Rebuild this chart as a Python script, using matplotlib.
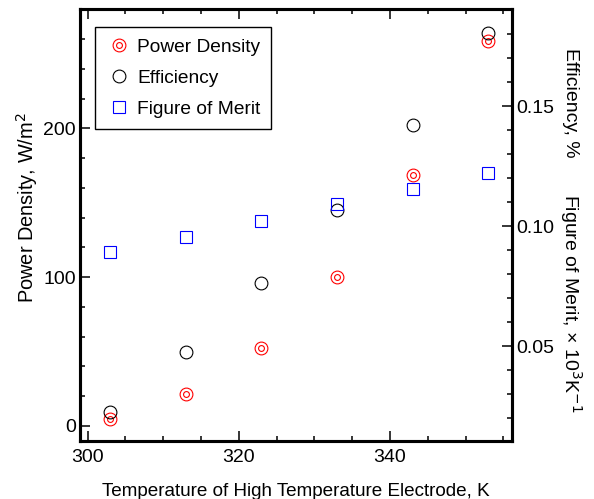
import matplotlib
matplotlib.use("Agg")
import matplotlib.pyplot as plt
from matplotlib.ticker import MultipleLocator, FormatStrFormatter
from matplotlib.legend_handler import HandlerTuple

plt.rcParams['font.family'] = ['Liberation Sans', 'DejaVu Sans']

temperature = [303, 313, 323, 333, 343, 353]
power_density = [4.7, 21.5, 52.2, 100.4, 168.5, 258.9]
efficiency = [0.0228, 0.0477, 0.0765, 0.107, 0.142, 0.1804]
figure_of_merit = [0.0891, 0.0957, 0.1022, 0.1093, 0.1156, 0.1222]

fig = plt.figure(figsize=(5.94, 4.99), dpi=100)
ax = fig.add_axes([0.1347, 0.1162, 0.8614 - 0.1347, 0.982 - 0.1162])
ax2 = ax.twinx()

ms_out, ms_in, mew = 9.2, 4.2, 0.8
p1, = ax.plot(temperature, power_density, ls='none', marker='o', ms=ms_out,
              mfc='none', mec='red', mew=mew)
p1b, = ax.plot(temperature, power_density, ls='none', marker='o', ms=ms_in,
               mfc='none', mec='red', mew=mew)
p2, = ax2.plot(temperature, efficiency, ls='none', marker='o', ms=ms_out,
               mfc='none', mec='black', mew=mew)
p3, = ax2.plot(temperature, figure_of_merit, ls='none', marker='s', ms=ms_out,
               mfc='none', mec='blue', mew=mew)

ax.set_xlim(299.0, 356.1)
ax.set_ylim(-10.1, 280.2)
ax2.set_ylim(0.0106, 0.1905)

ax.xaxis.set_major_locator(MultipleLocator(20))
ax.xaxis.set_minor_locator(MultipleLocator(5))
ax.yaxis.set_major_locator(MultipleLocator(100))
ax.yaxis.set_minor_locator(MultipleLocator(20))
ax2.yaxis.set_major_locator(MultipleLocator(0.05))
ax2.yaxis.set_minor_locator(MultipleLocator(0.01))
ax2.yaxis.set_major_formatter(FormatStrFormatter('%.2f'))

for a in (ax, ax2):
    for s in a.spines.values():
        s.set_linewidth(2.2)
ax.tick_params(axis='x', which='both', direction='in', top=True, bottom=True,
               labelsize=14, pad=6)
ax.tick_params(axis='y', which='both', direction='in', left=True, right=False,
               labelsize=14, pad=3)
ax2.tick_params(axis='y', which='both', direction='in', right=True,
                labelsize=14, pad=3)
for a in (ax, ax2):
    a.tick_params(which='major', length=7, width=1.1)
    a.tick_params(which='minor', length=3.5, width=1.1)

ax.set_xlabel('Temperature of High Temperature Electrode, K', fontsize=13.6, labelpad=12)

fig.text(27 / 594, 1 - 208 / 499, 'Power Density, W/m$^2$', rotation=90, fontsize=14.4,
         ha='center', va='center')
fig.text(571 / 594, 1 - 102.5 / 499, 'Efficiency, %', rotation=270, fontsize=14,
         ha='center', va='center')
fig.text(571 / 594, 1 - 303.5 / 499, 'Figure of Merit, \u00d7 10$^3$K$^{-1}$', rotation=270,
         fontsize=14, ha='center', va='center')

leg = ax2.legend([(p1, p1b), p2, p3], ['Power Density', 'Efficiency', 'Figure of Merit'],
                 handler_map={tuple: HandlerTuple(ndivide=1, pad=0)},
                 loc='upper left', bbox_to_anchor=(0.035, 0.958), fontsize=13.8,
                 frameon=True, fancybox=False, edgecolor='black', framealpha=1,
                 handlelength=1.3, handletextpad=0.3, borderpad=0.58, labelspacing=0.72,
                 borderaxespad=0)
leg.get_frame().set_linewidth(1.0)

fig.savefig('out.png', dpi=100)
